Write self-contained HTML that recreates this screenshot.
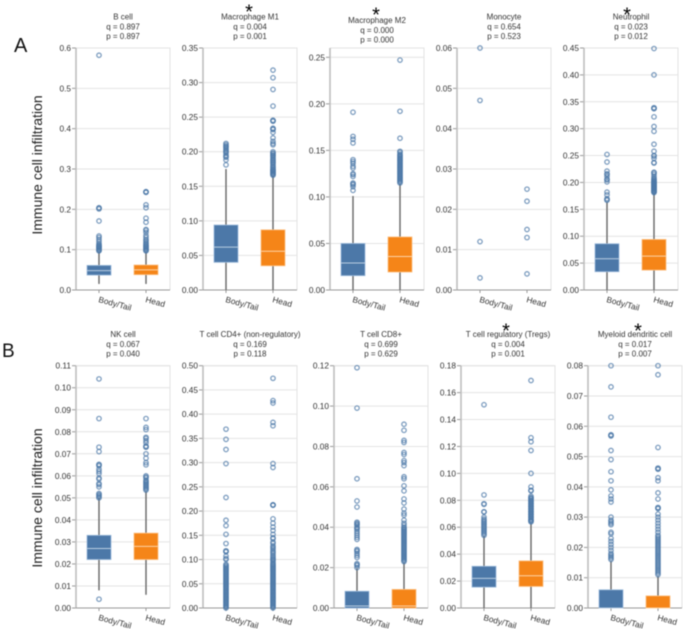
<!DOCTYPE html>
<html>
<head>
<meta charset="utf-8">
<title>Immune cell infiltration box plots</title>
<style>
html,body{margin:0;padding:0;background:#fff;width:683px;height:629px;overflow:hidden}
svg{display:block;filter:blur(0.45px)}
text{font-family:"Liberation Sans",sans-serif}
</style>
</head>
<body>
<svg id="chart" width="683" height="629" viewBox="0 0 683 629" xmlns="http://www.w3.org/2000/svg">
<text x="14" y="52" font-size="20" fill="#111">A</text>
<text x="2" y="357" font-size="19" fill="#111">B</text>
<text transform="translate(42,165) rotate(-90)" text-anchor="middle" font-size="14" fill="#222">Immune cell infiltration</text>
<text transform="translate(42,498) rotate(-90)" text-anchor="middle" font-size="14" fill="#222">Immune cell infiltration</text>
</svg>
<script>
const categories = ['Body/Tail', 'Head'];
const panelTitles = ['B cell', 'Macrophage M1', 'Macrophage M2', 'Monocyte', 'Neutrophil', 'NK cell', 'T cell CD4+ (non-regulatory)', 'T cell CD8+', 'T cell regulatory (Tregs)', 'Myeloid dendritic cell'];
const qValues = ['0.897', '0.004', '0.000', '0.654', '0.023', '0.067', '0.169', '0.699', '0.004', '0.017'];
const pValues = ['0.897', '0.001', '0.000', '0.523', '0.012', '0.040', '0.118', '0.629', '0.001', '0.007'];
const significant = [false, true, true, false, true, false, false, false, true, true];
const yMaxValues = [0.6, 0.35, 0.26, 0.06, 0.45, 0.11, 0.5, 0.12, 0.18, 0.08];
const tickLabels = [
  ['0.0','0.1','0.2','0.3','0.4','0.5','0.6'],
  ['0.00','0.05','0.10','0.15','0.20','0.25','0.30','0.35'],
  ['0.00','0.05','0.10','0.15','0.20','0.25'],
  ['0.00','0.01','0.02','0.03','0.04','0.05','0.06'],
  ['0.00','0.05','0.10','0.15','0.20','0.25','0.30','0.35','0.40','0.45'],
  ['0.00','0.01','0.02','0.03','0.04','0.05','0.06','0.07','0.08','0.09','0.10','0.11'],
  ['0.00','0.05','0.10','0.15','0.20','0.25','0.30','0.35','0.40','0.45','0.50'],
  ['0.00','0.02','0.04','0.06','0.08','0.10','0.12'],
  ['0.00','0.02','0.04','0.06','0.08','0.10','0.12','0.14','0.16','0.18'],
  ['0.00','0.01','0.02','0.03','0.04','0.05','0.06','0.07','0.08']
];
/* [whisker low, q1, median, q3, whisker high] */
const bodyStats = [
  [0.015, 0.037, 0.048, 0.061, 0.095],
  [0, 0.04, 0.062, 0.094, 0.175],
  [0, 0.0154, 0.029, 0.05, 0.101],
  [0, 0, 0, 0, 0],
  [0, 0.034, 0.058, 0.086, 0.163],
  [0.008, 0.022, 0.027, 0.033, 0.05],
  [0, 0, 0, 0, 0],
  [0, 0, 0.001, 0.0083, 0.0196],
  [0, 0.0155, 0.022, 0.031, 0.0535],
  [0, 0, 0, 0.006, 0.0155]
];
const headStats = [
  [0.015, 0.038, 0.05, 0.062, 0.095],
  [0, 0.035, 0.056, 0.087, 0.165],
  [0, 0.0193, 0.036, 0.057, 0.114],
  [0, 0, 0, 0, 0],
  [0, 0.037, 0.063, 0.094, 0.18],
  [0.006, 0.022, 0.028, 0.034, 0.053],
  [0, 0, 0, 0, 0],
  [0, 0, 0.001, 0.0092, 0.0225],
  [0, 0.016, 0.024, 0.035, 0.063],
  [0, 0, 0, 0.004, 0.0105]
];
const bodyOutliers = [
  [0.582,0.204,0.203,0.201,0.171,0.134,0.13,0.125,0.12,0.115,0.112,0.11,0.108,0.107,0.105,0.104,0.102,0.1,0.098,0.097],
  [0.212,0.21,0.208,0.207,0.205,0.203,0.201,0.2,0.198,0.195,0.193,0.192,0.188,0.181],
  [0.191,0.165,0.162,0.158,0.14,0.138,0.136,0.133,0.131,0.125,0.124,0.122,0.115,0.114,0.113,0.111,0.107],
  [0.06,0.047,0.012,0.003],
  [0.252,0.238,0.221,0.216,0.215,0.211,0.206,0.205,0.201,0.182,0.177,0.17,0.168,0.167],
  [0.104,0.086,0.073,0.071,0.0652,0.065,0.0645,0.063,0.062,0.061,0.059,0.0585,0.0565,0.056,0.055,0.052,0.0515,0.051,0.0505,0.05,0.004],
  [0.369,0.348,0.327,0.298,0.228,0.181,0.17,0.152,0.133,0.118,0.117,0.116,0.107,0.102,0.1,0.09,0.088,0.086,0.084,0.082,0.08,0.078,0.076,0.074,0.072,0.07,0.068,0.066,0.064,0.062,0.06,0.058,0.056,0.054,0.052,0.05,0.048,0.046,0.044,0.042,0.04,0.038,0.036,0.034,0.032,0.03,0.028,0.026,0.024,0.022,0.02,0.018,0.016,0.014,0.012,0.01,0.008,0.006,0.004,0.002,0],
  [0.119,0.099,0.064,0.053,0.05,0.0425,0.042,0.0415,0.041,0.04,0.0395,0.039,0.038,0.037,0.036,0.035,0.034,0.029,0.0285,0.028,0.027,0.026,0.025,0.022,0.0215,0.021,0.02],
  [0.151,0.084,0.0775,0.077,0.0715,0.0713,0.0675,0.066,0.065,0.064,0.063,0.062,0.061,0.06,0.059,0.058,0.057,0.056,0.055,0.054],
  [0.08,0.073,0.063,0.0572,0.057,0.0568,0.052,0.049,0.045,0.042,0.039,0.037,0.036,0.035,0.03,0.029,0.0285,0.028,0.0275,0.025,0.0245,0.023,0.022,0.021,0.02,0.019,0.018,0.0175,0.017,0.0165,0.016]
];
const headOutliers = [
  [0.244,0.243,0.242,0.211,0.204,0.178,0.168,0.15,0.148,0.143,0.135,0.13,0.125,0.122,0.118,0.115,0.112,0.11,0.108,0.106,0.104,0.102,0.1,0.098,0.097],
  [0.318,0.307,0.29,0.266,0.2455,0.245,0.244,0.234,0.233,0.232,0.228,0.22,0.215,0.212,0.21,0.2,0.198,0.197,0.195,0.194,0.192,0.19,0.188,0.187,0.185,0.184,0.182,0.18,0.178,0.177,0.175,0.174,0.173,0.172,0.171,0.17,0.169,0.168,0.167,0.166],
  [0.247,0.192,0.163,0.149,0.148,0.146,0.145,0.144,0.143,0.142,0.141,0.14,0.139,0.138,0.137,0.136,0.135,0.134,0.133,0.132,0.131,0.13,0.129,0.128,0.127,0.126,0.125,0.124,0.123,0.122,0.121,0.12,0.119,0.118,0.117,0.116,0.115],
  [0.025,0.022,0.015,0.013,0.004],
  [0.449,0.4,0.339,0.338,0.337,0.322,0.304,0.295,0.271,0.258,0.25,0.249,0.245,0.237,0.236,0.219,0.218,0.215,0.211,0.208,0.206,0.205,0.203,0.202,0.201,0.2,0.199,0.198,0.197,0.196,0.195,0.194,0.193,0.192,0.191,0.19,0.189,0.188,0.187,0.186,0.185,0.184,0.183,0.182,0.181],
  [0.086,0.082,0.081,0.0775,0.077,0.076,0.075,0.0735,0.0732,0.073,0.07,0.068,0.066,0.065,0.06,0.0595,0.059,0.058,0.0575,0.057,0.0565,0.056,0.0555,0.055,0.0545,0.054,0.0535],
  [0.474,0.428,0.423,0.383,0.376,0.298,0.29,0.213,0.2125,0.212,0.184,0.175,0.167,0.16,0.152,0.145,0.143,0.136,0.133,0.128,0.125,0.122,0.118,0.115,0.112,0.108,0.105,0.102,0.1,0.098,0.095,0.092,0.09,0.088,0.086,0.084,0.082,0.08,0.078,0.076,0.074,0.072,0.07,0.068,0.066,0.064,0.062,0.06,0.058,0.056,0.054,0.052,0.05,0.048,0.046,0.044,0.042,0.04,0.038,0.036,0.034,0.032,0.03,0.028,0.026,0.024,0.022,0.02,0.018,0.016,0.014,0.012,0.01,0.008,0.006,0.004,0.002,0],
  [0.091,0.088,0.083,0.082,0.077,0.076,0.073,0.072,0.0705,0.065,0.064,0.0605,0.058,0.054,0.052,0.049,0.047,0.046,0.0435,0.042,0.041,0.04,0.0395,0.039,0.0385,0.038,0.0375,0.037,0.0365,0.036,0.0355,0.035,0.0345,0.034,0.0335,0.033,0.0325,0.032,0.0315,0.031,0.0305,0.03,0.0295,0.029,0.0285,0.028,0.0275,0.027,0.0265,0.026,0.0255,0.025,0.0245,0.024,0.0235,0.023],
  [0.169,0.1265,0.1235,0.117,0.1,0.09,0.0875,0.087,0.083,0.082,0.0815,0.081,0.08,0.0795,0.079,0.078,0.0775,0.077,0.076,0.0755,0.075,0.074,0.0735,0.073,0.072,0.0715,0.071,0.07,0.0695,0.069,0.068,0.0675,0.067,0.066,0.0655,0.065,0.0645,0.064],
  [0.08,0.077,0.053,0.0462,0.046,0.0458,0.043,0.042,0.038,0.036,0.0332,0.033,0.0328,0.031,0.03,0.029,0.028,0.027,0.026,0.025,0.024,0.0235,0.023,0.0225,0.022,0.0215,0.021,0.0205,0.02,0.0195,0.019,0.0185,0.018,0.0175,0.017,0.0165,0.016,0.0155,0.015,0.0145,0.014,0.0135,0.013,0.0125,0.012,0.0115,0.011]
];

const axisLeft = [76, 203, 330, 457, 584, 76, 203, 334, 461, 588];
const starLeft = [0, 249, 376, 0, 627, 0, 0, 0, 506, 638];
const starBaseline = [0, 18.6, 21.6, 0, 21.6, 0, 0, 0, 337.3, 337.3];
const PLOT_W = 94, BOX_HALF = 12, CAT_OFFSET = [23, 70];
const svg = document.getElementById('chart');
const NS = 'http://www.w3.org/2000/svg';

function make(tag, parent, props) {
  const node = document.createElementNS(NS, tag);
  for (const k in props) node.setAttribute(k, props[k]);
  parent.appendChild(node);
  return node;
}
function slug(s) {
  return s.toLowerCase().replace(/[^a-z0-9]+/g, '-').replace(/^-|-$/g, '');
}

panelTitles.forEach(function (title, i) {
  const top = i < 5 ? 48 : 365.7;
  const bottom = i < 5 ? 290 : 608;
  const left = axisLeft[i];
  const right = left + PLOT_W;
  const y = function (v) { return bottom - (v / yMaxValues[i]) * (bottom - top); };
  const x = function (c) { return left + CAT_OFFSET[c]; };
  const name = slug(title);

  const g = make('g', svg, {});
  
  

  const frame = make('path', g, { d: 'M' + left + ' ' + top + 'H' + right + 'V' + bottom, fill: 'none', stroke: '#e2e2e2', 'stroke-width': 1 });
  
  

  tickLabels[i].forEach(function (label) {
    const v = parseFloat(label);
    const py = y(v);
    if (v > 0) {
      const grid = make('line', g, { x1: left, x2: right, y1: py, y2: py, stroke: '#e4e4e4', 'stroke-width': 1 });
      
      
    }
    const tick = make('line', g, { x1: left - 4, x2: left, y1: py, y2: py, stroke: '#999', 'stroke-width': 1 });
    
    
    const t = make('text', g, { x: left - 5, y: py + 3, 'text-anchor': 'end', 'font-size': 8.3, fill: '#333' });
    t.textContent = label;
    
    
  });

  const yAxis = make('line', g, { x1: left, x2: left, y1: top, y2: bottom, stroke: '#bdbdbd', 'stroke-width': 1.6 });
  
  
  const xAxis = make('line', g, { x1: left, x2: right, y1: bottom, y2: bottom, stroke: '#999', 'stroke-width': 1 });
  
  

  categories.forEach(function (cat, c) {
    const cx = x(c);
    const stats = (c === 0 ? bodyStats : headStats)[i];
    const outliers = (c === 0 ? bodyOutliers : headOutliers)[i];
    const fill = c === 0 ? '#4c78a8' : '#f58518';
    const edge = c === 0 ? '#9dbbdc' : '#fcc083';
    const catName = name + '-' + slug(cat);

    const tick = make('line', g, { x1: cx, x2: cx, y1: bottom, y2: bottom + 3, stroke: '#999', 'stroke-width': 1 });
    
    

    const label = make('text', g, { transform: 'translate(' + (cx - 1) + ',' + (bottom + 12) + ') rotate(15)', 'font-size': 8.3, fill: '#333' });
    label.textContent = cat;
    
    

    const whisker = make('line', g, { x1: cx, x2: cx, y1: y(stats[0]), y2: y(stats[4]), stroke: '#666', 'stroke-width': 1.4 });
    
    

    const box = make('rect', g, { x: cx - BOX_HALF, y: y(stats[3]), width: BOX_HALF * 2, height: y(stats[1]) - y(stats[3]), fill: fill, stroke: edge, 'stroke-width': 0.8 });
    
    

    if (stats[3] > stats[1]) {
      const median = make('line', g, { x1: cx - BOX_HALF, x2: cx + BOX_HALF, y1: y(stats[2]), y2: y(stats[2]), stroke: c === 0 ? '#b9cde2' : '#fdd3a6', 'stroke-width': 1 });
      
      
    }

    outliers.forEach(function (v) {
      const dot = make('circle', g, { cx: cx, cy: y(v), r: 2.2, fill: 'none', stroke: '#4c78a8', 'stroke-opacity': 0.72, 'stroke-width': 1.3 });
      
      
    });
  });

  const cx = left + PLOT_W / 2;
  const base = i < 5 ? (i === 2 ? 23 : 19.5) : 337;
  [title, 'q = ' + qValues[i], 'p = ' + pValues[i]].forEach(function (line, l) {
    const t = make('text', g, { x: cx, y: base + l * 9.8, 'text-anchor': 'middle', 'font-size': 8, fill: '#333' });
    t.textContent = line;
    
    
  });
  if (significant[i]) {
    const star = make('text', g, { x: starLeft[i], y: starBaseline[i], 'text-anchor': 'middle', 'font-size': 20, fill: '#000' });
    star.textContent = '*';
    
    
  }
});
</script>
</body>
</html>
